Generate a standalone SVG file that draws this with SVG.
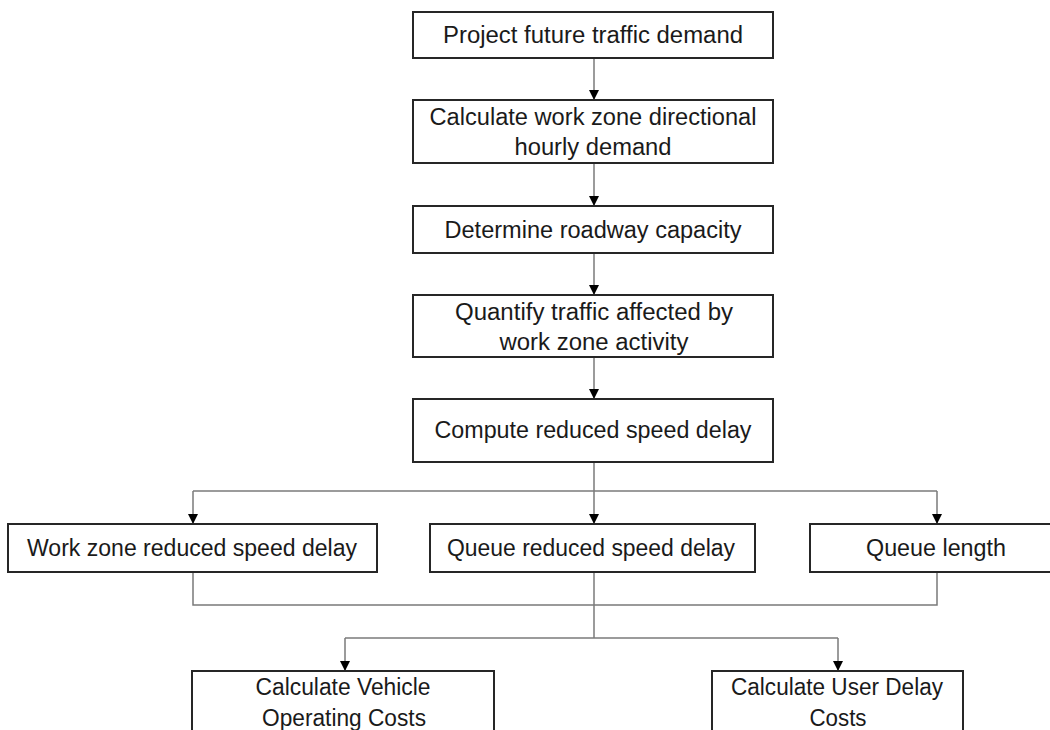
<svg xmlns="http://www.w3.org/2000/svg" width="1050" height="730" viewBox="0 0 1050 730">
<defs>
<style>
.box{fill:#ffffff;stroke:#262626;stroke-width:2}
.lbl{font-family:"Liberation Sans",Arial,sans-serif;font-size:23px;fill:#1a1a1a;text-anchor:middle}
.con{fill:none;stroke:#7a7a7a;stroke-width:1.5}
</style>
<marker id="arr" viewBox="0 0 10 10" refX="10" refY="5" markerWidth="10" markerHeight="10" markerUnits="userSpaceOnUse" orient="auto">
<path d="M0,0 L10,5 L0,10 Z" fill="#000000"/>
</marker>
</defs>
<rect width="1050" height="730" fill="#ffffff"/>
<g id="connectors">
<line class="con" x1="594" y1="58" x2="594" y2="100" marker-end="url(#arr)"/>
<line class="con" x1="594" y1="163" x2="594" y2="206" marker-end="url(#arr)"/>
<line class="con" x1="594" y1="253" x2="594" y2="295" marker-end="url(#arr)"/>
<line class="con" x1="594" y1="357" x2="594" y2="399" marker-end="url(#arr)"/>
<line class="con" x1="594" y1="462" x2="594" y2="524" marker-end="url(#arr)"/>
<line class="con" x1="193" y1="491" x2="937" y2="491"/>
<line class="con" x1="193" y1="491" x2="193" y2="524" marker-end="url(#arr)"/>
<line class="con" x1="937" y1="491" x2="937" y2="524" marker-end="url(#arr)"/>
<polyline class="con" points="193,572 193,605 937,605 937,572"/>
<line class="con" x1="594" y1="572" x2="594" y2="638"/>
<line class="con" x1="345" y1="638" x2="838" y2="638"/>
<line class="con" x1="345" y1="638" x2="345" y2="671" marker-end="url(#arr)"/>
<line class="con" x1="838" y1="638" x2="838" y2="671" marker-end="url(#arr)"/>
</g>
<g id="n1">
<rect class="box" x="413" y="12" width="360" height="46"/>
<text class="lbl" x="593" y="43" textLength="300" lengthAdjust="spacingAndGlyphs">Project future traffic demand</text>
</g>
<g id="n2">
<rect class="box" x="413" y="100" width="360" height="63"/>
<text class="lbl" x="593" y="125" textLength="327" lengthAdjust="spacingAndGlyphs">Calculate work zone directional</text>
<text class="lbl" x="593" y="155" textLength="157" lengthAdjust="spacingAndGlyphs">hourly demand</text>
</g>
<g id="n3">
<rect class="box" x="413" y="206" width="360" height="47"/>
<text class="lbl" x="593" y="238" textLength="297" lengthAdjust="spacingAndGlyphs">Determine roadway capacity</text>
</g>
<g id="n4">
<rect class="box" x="413" y="295" width="360" height="62"/>
<text class="lbl" x="594" y="320" textLength="278" lengthAdjust="spacingAndGlyphs">Quantify traffic affected by</text>
<text class="lbl" x="594" y="350" textLength="189" lengthAdjust="spacingAndGlyphs">work zone activity</text>
</g>
<g id="n5">
<rect class="box" x="413" y="399" width="360" height="63"/>
<text class="lbl" x="593" y="438" textLength="317" lengthAdjust="spacingAndGlyphs">Compute reduced speed delay</text>
</g>
<g id="n6">
<rect class="box" x="8" y="524" width="369" height="48"/>
<text class="lbl" x="192" y="556" textLength="330" lengthAdjust="spacingAndGlyphs">Work zone reduced speed delay</text>
</g>
<g id="n7">
<rect class="box" x="430" y="524" width="325" height="48"/>
<text class="lbl" x="591" y="556" textLength="288" lengthAdjust="spacingAndGlyphs">Queue reduced speed delay</text>
</g>
<g id="n8">
<rect class="box" x="810" y="524" width="260" height="48"/>
<text class="lbl" x="936" y="556" textLength="140" lengthAdjust="spacingAndGlyphs">Queue length</text>
</g>
<g id="n9">
<rect class="box" x="192" y="671" width="302" height="80"/>
<text class="lbl" x="343" y="695" textLength="175" lengthAdjust="spacingAndGlyphs">Calculate Vehicle</text>
<text class="lbl" x="344" y="726" textLength="164" lengthAdjust="spacingAndGlyphs">Operating Costs</text>
</g>
<g id="n10">
<rect class="box" x="712" y="671" width="251" height="80"/>
<text class="lbl" x="837" y="695" textLength="212" lengthAdjust="spacingAndGlyphs">Calculate User Delay</text>
<text class="lbl" x="838" y="726" textLength="57" lengthAdjust="spacingAndGlyphs">Costs</text>
</g>
</svg>
